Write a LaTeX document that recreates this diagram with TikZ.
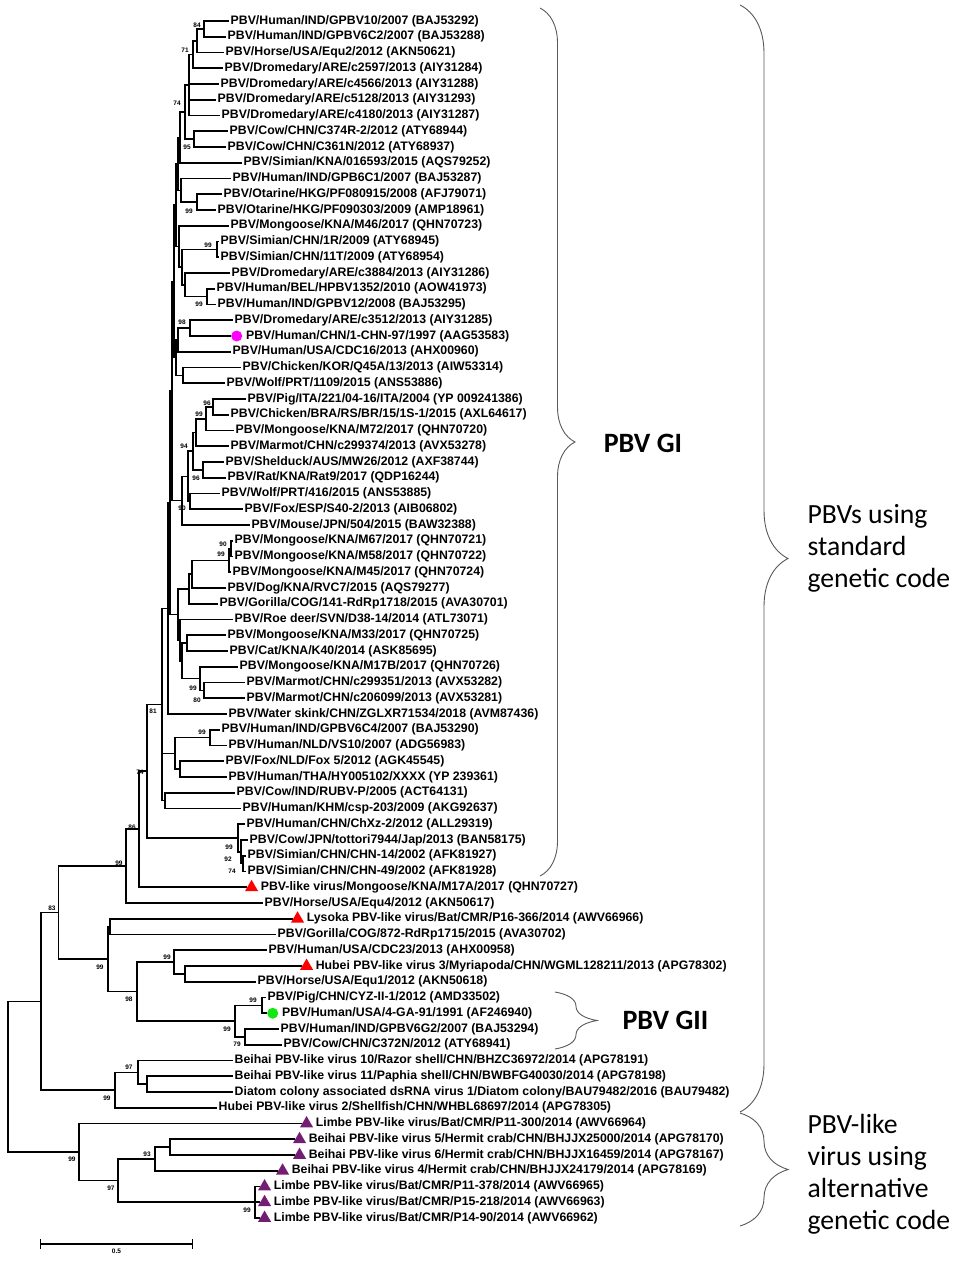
\documentclass[tikz,border=0pt]{standalone}
\usepackage{fontspec}
\setmainfont{Liberation Sans}
\newfontfamily\calib{Carlito}
\usetikzlibrary{calc, arrows, positioning, shapes.geometric, decorations.pathreplacing}

\definecolor{magdot}{RGB}{255,0,255}
\definecolor{grndot}{RGB}{20,230,20}
\definecolor{redtri}{RGB}{255,0,0}
\definecolor{purtri}{RGB}{115,30,115}

\tikzset{
  br/.style={line width=1.6pt, black},
  leaf/.style={anchor=west, inner sep=1.5pt, font=\fontsize{12.3}{14}\selectfont\bfseries},
  bs/.style={inner sep=0pt, font=\fontsize{6.5}{7}\selectfont\bfseries},
  tri/.style={regular polygon, regular polygon sides=3, fill=#1, inner sep=0pt, minimum size=15pt, anchor=west},
  dot/.style={circle, fill=#1, inner sep=0pt, minimum size=11pt, anchor=west},
  brc/.style={decorate, draw=black!65, line width=0.9pt},
  big/.style={font=\calib\fontsize{27.7}{32}\selectfont, align=left, anchor=west}
}

\begin{document}
\begin{tikzpicture}[x=1pt, y=-1pt]
\useasboundingbox (0,0) rectangle (957,1262);

% leaves, GI
\node[leaf] (l1) at (229,21) {PBV/Human/IND/GPBV10/2007 (BAJ53292)};
\node[leaf] (l2) at (226,36.75) {PBV/Human/IND/GPBV6C2/2007 (BAJ53288)};
\node[leaf] (l3) at (224,52.5) {PBV/Horse/USA/Equ2/2012 (AKN50621)};
\node[leaf] (l4) at (223,68.25) {PBV/Dromedary/ARE/c2597/2013 (AIY31284)};
\node[leaf] (l5) at (219,84) {PBV/Dromedary/ARE/c4566/2013 (AIY31288)};
\node[leaf] (l6) at (216,99.75) {PBV/Dromedary/ARE/c5128/2013 (AIY31293)};
\node[leaf] (l7) at (220,115.5) {PBV/Dromedary/ARE/c4180/2013 (AIY31287)};
\node[leaf] (l8) at (228,131.25) {PBV/Cow/CHN/C374R-2/2012 (ATY68944)};
\node[leaf] (l9) at (226,147) {PBV/Cow/CHN/C361N/2012 (ATY68937)};
\node[leaf] (l10) at (242,162.75) {PBV/Simian/KNA/016593/2015 (AQS79252)};
\node[leaf] (l11) at (231,178.5) {PBV/Human/IND/GPB6C1/2007 (BAJ53287)};
\node[leaf] (l12) at (222,194.25) {PBV/Otarine/HKG/PF080915/2008 (AFJ79071)};
\node[leaf] (l13) at (216,210) {PBV/Otarine/HKG/PF090303/2009 (AMP18961)};
\node[leaf] (l14) at (229,225.75) {PBV/Mongoose/KNA/M46/2017 (QHN70723)};
\node[leaf] (l15) at (219,241.5) {PBV/Simian/CHN/1R/2009 (ATY68945)};
\node[leaf] (l16) at (219,257.25) {PBV/Simian/CHN/11T/2009 (ATY68954)};
\node[leaf] (l17) at (230,273) {PBV/Dromedary/ARE/c3884/2013 (AIY31286)};
\node[leaf] (l18) at (215,288.75) {PBV/Human/BEL/HPBV1352/2010 (AOW41973)};
\node[leaf] (l19) at (216,304.5) {PBV/Human/IND/GPBV12/2008 (BAJ53295)};
\node[leaf] (l20) at (233,320.25) {PBV/Dromedary/ARE/c3512/2013 (AIY31285)};
\node[dot=magdot] (m21) at (231,336) {};
\node[leaf, right=2pt of m21] (l21) {PBV/Human/CHN/1-CHN-97/1997 (AAG53583)};
\node[leaf] (l22) at (231,351.75) {PBV/Human/USA/CDC16/2013 (AHX00960)};
\node[leaf] (l23) at (241,367.5) {PBV/Chicken/KOR/Q45A/13/2013 (AIW53314)};
\node[leaf] (l24) at (225,383.25) {PBV/Wolf/PRT/1109/2015 (ANS53886)};
\node[leaf] (l25) at (246,399) {PBV/Pig/ITA/221/04-16/ITA/2004 (YP 009241386)};
\node[leaf] (l26) at (229,414.75) {PBV/Chicken/BRA/RS/BR/15/1S-1/2015 (AXL64617)};
\node[leaf] (l27) at (234,430.5) {PBV/Mongoose/KNA/M72/2017 (QHN70720)};
\node[leaf] (l28) at (229,446.25) {PBV/Marmot/CHN/c299374/2013 (AVX53278)};
\node[leaf] (l29) at (224,462) {PBV/Shelduck/AUS/MW26/2012 (AXF38744)};
\node[leaf] (l30) at (226,477.75) {PBV/Rat/KNA/Rat9/2017 (QDP16244)};
\node[leaf] (l31) at (220,493.5) {PBV/Wolf/PRT/416/2015 (ANS53885)};
\node[leaf] (l32) at (243,509.25) {PBV/Fox/ESP/S40-2/2013 (AIB06802)};
\node[leaf] (l33) at (250,525) {PBV/Mouse/JPN/504/2015 (BAW32388)};
\node[leaf] (l34) at (233,540.75) {PBV/Mongoose/KNA/M67/2017 (QHN70721)};
\node[leaf] (l35) at (233,556.5) {PBV/Mongoose/KNA/M58/2017 (QHN70722)};
\node[leaf] (l36) at (231,572.25) {PBV/Mongoose/KNA/M45/2017 (QHN70724)};
\node[leaf] (l37) at (226,588) {PBV/Dog/KNA/RVC7/2015 (AQS79277)};
\node[leaf] (l38) at (218,603.75) {PBV/Gorilla/COG/141-RdRp1718/2015 (AVA30701)};
\node[leaf] (l39) at (233,619.5) {PBV/Roe deer/SVN/D38-14/2014 (ATL73071)};
\node[leaf] (l40) at (226,635.25) {PBV/Mongoose/KNA/M33/2017 (QHN70725)};
\node[leaf] (l41) at (228,651) {PBV/Cat/KNA/K40/2014 (ASK85695)};
\node[leaf] (l42) at (238,666.75) {PBV/Mongoose/KNA/M17B/2017 (QHN70726)};
\node[leaf] (l43) at (245,682.5) {PBV/Marmot/CHN/c299351/2013 (AVX53282)};
\node[leaf] (l44) at (245,698.25) {PBV/Marmot/CHN/c206099/2013 (AVX53281)};
\node[leaf] (l45) at (227,714) {PBV/Water skink/CHN/ZGLXR71534/2018 (AVM87436)};
\node[leaf] (l46) at (220,729.75) {PBV/Human/IND/GPBV6C4/2007 (BAJ53290)};
\node[leaf] (l47) at (227,745.5) {PBV/Human/NLD/VS10/2007 (ADG56983)};
\node[leaf] (l48) at (224,761.25) {PBV/Fox/NLD/Fox 5/2012 (AGK45545)};
\node[leaf] (l49) at (227,777) {PBV/Human/THA/HY005102/XXXX (YP 239361)};
\node[leaf] (l50) at (235,792.75) {PBV/Cow/IND/RUBV-P/2005 (ACT64131)};
\node[leaf] (l51) at (241,808.5) {PBV/Human/KHM/csp-203/2009 (AKG92637)};
\node[leaf] (l52) at (245,824.25) {PBV/Human/CHN/ChXz-2/2012 (ALL29319)};
\node[leaf] (l53) at (248,840) {PBV/Cow/JPN/tottori7944/Jap/2013 (BAN58175)};
\node[leaf] (l54) at (246,855.75) {PBV/Simian/CHN/CHN-14/2002 (AFK81927)};
\node[leaf] (l55) at (246,871.5) {PBV/Simian/CHN/CHN-49/2002 (AFK81928)};
% leaves, rest
\node[tri=redtri] (m56) at (247,887.25) {};
\node[leaf, right=3pt of m56] (l56) {PBV-like virus/Mongoose/KNA/M17A/2017 (QHN70727)};
\node[leaf] (l57) at (263,903) {PBV/Horse/USA/Equ4/2012 (AKN50617)};
\node[tri=redtri] (m58) at (293,918.75) {};
\node[leaf, right=3pt of m58] (l58) {Lysoka PBV-like virus/Bat/CMR/P16-366/2014 (AWV66966)};
\node[leaf] (l59) at (276,934.5) {PBV/Gorilla/COG/872-RdRp1715/2015 (AVA30702)};
\node[leaf] (l60) at (267,950.25) {PBV/Human/USA/CDC23/2013 (AHX00958)};
\node[tri=redtri] (m61) at (302,966) {};
\node[leaf, right=3pt of m61] (l61) {Hubei PBV-like virus 3/Myriapoda/CHN/WGML128211/2013 (APG78302)};
\node[leaf] (l62) at (256,981.75) {PBV/Horse/USA/Equ1/2012 (AKN50618)};
\node[leaf] (l63) at (266,997.5) {PBV/Pig/CHN/CYZ-II-1/2012 (AMD33502)};
\node[dot=grndot] (m64) at (267,1013.25) {};
\node[leaf, right=2pt of m64] (l64) {PBV/Human/USA/4-GA-91/1991 (AF246940)};
\node[leaf] (l65) at (279,1029) {PBV/Human/IND/GPBV6G2/2007 (BAJ53294)};
\node[leaf] (l66) at (282,1044.75) {PBV/Cow/CHN/C372N/2012 (ATY68941)};
\node[leaf] (l67) at (233,1060.5) {Beihai PBV-like virus 10/Razor shell/CHN/BHZC36972/2014 (APG78191)};
\node[leaf] (l68) at (233,1076.25) {Beihai PBV-like virus 11/Paphia shell/CHN/BWBFG40030/2014 (APG78198)};
\node[leaf] (l69) at (233,1092) {Diatom colony associated dsRNA virus 1/Diatom colony/BAU79482/2016 (BAU79482)};
\node[leaf] (l70) at (217,1107.75) {Hubei PBV-like virus 2/Shellfish/CHN/WHBL68697/2014 (APG78305)};
\node[tri=purtri] (m71) at (302,1123.5) {};
\node[leaf, right=3pt of m71] (l71) {Limbe PBV-like virus/Bat/CMR/P11-300/2014 (AWV66964)};
\node[tri=purtri] (m72) at (295,1139.25) {};
\node[leaf, right=3pt of m72] (l72) {Beihai PBV-like virus 5/Hermit crab/CHN/BHJJX25000/2014 (APG78170)};
\node[tri=purtri] (m73) at (295,1155) {};
\node[leaf, right=3pt of m73] (l73) {Beihai PBV-like virus 6/Hermit crab/CHN/BHJJX16459/2014 (APG78167)};
\node[tri=purtri] (m74) at (278,1170.75) {};
\node[leaf, right=3pt of m74] (l74) {Beihai PBV-like virus 4/Hermit crab/CHN/BHJJX24179/2014 (APG78169)};
\node[tri=purtri] (m75) at (260,1186.5) {};
\node[leaf, right=3pt of m75] (l75) {Limbe PBV-like virus/Bat/CMR/P11-378/2014 (AWV66965)};
\node[tri=purtri] (m76) at (260,1202.25) {};
\node[leaf, right=3pt of m76] (l76) {Limbe PBV-like virus/Bat/CMR/P15-218/2014 (AWV66963)};
\node[tri=purtri] (m77) at (260,1218) {};
\node[leaf, right=3pt of m77] (l77) {Limbe PBV-like virus/Bat/CMR/P14-90/2014 (AWV66962)};

% internal nodes
\coordinate (n84) at (204,28.9);
\coordinate (n71) at (197,40.7);
\coordinate (n93) at (193,54.5);
\coordinate (nPoly) at (189,85);
\coordinate (n95) at (194,139.1);
\coordinate (n74a) at (185,112.05);
\coordinate (nS) at (180,137.4);
\coordinate (nOt) at (197,202.1);
\coordinate (nO) at (181,190.3);
\coordinate (nT) at (178,163.85);
\coordinate (n99s) at (217,249.4);
\coordinate (nGB) at (207,296.6);
\coordinate (nA3) at (185,284.8);
\coordinate (nA2) at (182,267.1);
\coordinate (nA1) at (179,246.4);
\coordinate (nI1) at (176,205.1);
\coordinate (n98) at (190,328.1);
\coordinate (nB1) at (178,339.9);
\coordinate (nC) at (183,375.4);
\coordinate (nI2) at (176,357.65);
\coordinate (nI) at (174,281.4);
\coordinate (n96) at (213,406.9);
\coordinate (n99p) at (206,418.7);
\coordinate (nMa) at (196,432.5);
\coordinate (n96b) at (203,469.9);
\coordinate (n94) at (193,451.2);
\coordinate (nWF) at (190,501.4);
\coordinate (nWo) at (188,476.3);
\coordinate (nMo) at (182,500.65);
\coordinate (nJ) at (172,391);
\coordinate (n90) at (231,548.6);
\coordinate (n99m) at (229,560.4);
\coordinate (nDog) at (192,574.2);
\coordinate (nGor) at (189,589);
\coordinate (nCat) at (187,643.1);
\coordinate (n80) at (204,690.4);
\coordinate (n99c) at (200,678.6);
\coordinate (nE1) at (182,660.85);
\coordinate (nE2) at (180,640.2);
\coordinate (nF) at (178,614.6);
\coordinate (nH) at (170,502.8);
\coordinate (nW) at (168,608.4);
\coordinate (n99h) at (210,737.6);
\coordinate (nFx) at (180,769.1);
\coordinate (nG8) at (175,753.4);
\coordinate (nG9) at (165,800.6);
\coordinate (n81) at (162,704.5);
\coordinate (nCh3) at (243,863.6);
\coordinate (nCh2) at (241,851.8);
\coordinate (nChX) at (238,838);
\coordinate (n74) at (147,771.25);
\coordinate (n86) at (139,829.25);
\coordinate (n99a) at (126,866.1);
\coordinate (nLG) at (110,926.6);
\coordinate (nH3) at (185,973.9);
\coordinate (n99g) at (174,962.1);
\coordinate (nPH) at (262,1005.4);
\coordinate (nIC) at (245,1036.9);
\coordinate (n99h2) at (235,1021.15);
\coordinate (n98g) at (137,991.6);
\coordinate (n99b) at (108,959.1);
\coordinate (nA) at (58.5,912.6);
\coordinate (nB1011) at (147,1084.1);
\coordinate (n97) at (138,1072.3);
\coordinate (nBH) at (115,1090);
\coordinate (n83) at (41,1001.3);
\coordinate (nB56) at (170,1147.1);
\coordinate (n93b) at (155,1158.9);
\coordinate (nLim) at (255,1202.25);
\coordinate (n97b) at (118,1180.6);
\coordinate (n99alt) at (79,1152.05);
\coordinate (root) at (8,1076.7);

% branches
\foreach \p/\c in {n84/l1.west, n84/l2.west, n71/n84, n71/l3.west, n93/n71, n93/l4.west,
    nPoly/n93, nPoly/l5.west, nPoly/l6.west, nPoly/l7.west, n95/l8.west, n95/l9.west,
    n74a/nPoly, n74a/n95, nS/n74a, nS/l10.west, nOt/l12.west, nOt/l13.west, nO/l11.west, nO/nOt,
    nT/nS, nT/nO, n99s/l15.west, n99s/l16.west, nGB/l18.west, nGB/l19.west, nA3/l17.west, nA3/nGB,
    nA2/n99s, nA2/nA3, nA1/l14.west, nA1/nA2, nI1/nT, nI1/nA1,
    n98/l20.west, n98/m21.west, nB1/n98, nB1/l22.west, nC/l23.west, nC/l24.west,
    nI2/nB1, nI2/nC, nI/nI1, nI/nI2,
    n96/l25.west, n96/l26.west, n99p/n96, n99p/l27.west, nMa/n99p, nMa/l28.west,
    n96b/l29.west, n96b/l30.west, n94/nMa, n94/n96b, nWF/l31.west, nWF/l32.west,
    nWo/n94, nWo/nWF, nMo/nWo, nMo/l33.west, nJ/nI, nJ/nMo,
    n90/l34.west, n90/l35.west, n99m/n90, n99m/l36.west, nDog/n99m, nDog/l37.west,
    nGor/nDog, nGor/l38.west, nCat/l40.west, nCat/l41.west, n80/l43.west, n80/l44.west,
    n99c/l42.west, n99c/n80, nE1/nCat, nE1/n99c, nE2/l39.west, nE2/nE1, nF/nGor, nF/nE2,
    nH/nJ, nH/nF, nW/nH, nW/l45.west,
    n99h/l46.west, n99h/l47.west, nFx/l48.west, nFx/l49.west, nG8/n99h, nG8/nFx,
    nG9/l50.west, nG9/l51.west, n81/nW, n81/nG8, n81/nG9,
    nCh3/l54.west, nCh3/l55.west, nCh2/l53.west, nCh2/nCh3, nChX/l52.west, nChX/nCh2,
    n74/n81, n74/nChX, n86/n74, n86/m56.west, n99a/n86, n99a/l57.west,
    nLG/m58.west, nLG/l59.west, nH3/m61.west, nH3/l62.west, n99g/l60.west, n99g/nH3,
    nPH/l63.west, nPH/m64.west, nIC/l65.west, nIC/l66.west, n99h2/nPH, n99h2/nIC,
    n98g/n99g, n98g/n99h2, n99b/nLG, n99b/n98g, nA/n99a, nA/n99b,
    nB1011/l68.west, nB1011/l69.west, n97/l67.west, n97/nB1011, nBH/n97, nBH/l70.west,
    n83/nA, n83/nBH,
    nB56/m72.west, nB56/m73.west, n93b/nB56, n93b/m74.west,
    nLim/m75.west, nLim/m76.west, nLim/m77.west, n97b/n93b, n97b/nLim,
    n99alt/m71.west, n99alt/n97b, root/n83, root/n99alt}
  \draw[br] (\p) |- (\c);

% bootstrap values
\foreach \x/\y/\v [count=\i] in {197/25/84, 185/50/71, 177/103/74, 187/147/95, 189/211/99,
    208/245/99, 199/304/99, 182/322/98, 207/403/96, 199/414/99, 184/446/94, 196/478/96,
    182/508/90, 223/544/90, 221/554/99, 193/688/99, 197/700/80, 153/711/81, 202/732/99,
    140/772/74, 132/827/86, 229/847/99, 228/859/92, 232/871/74, 119/863/99, 52/908/83,
    100/967/99, 167/957/99, 129/999/98, 253/1000/99, 227/1029/99, 237/1044/79,
    129/1067/97, 107/1098/99, 72/1159/99, 147/1154/93, 111/1188/97, 247/1210/99}
  \node[bs] (b\i) at (\x,\y) {\v};

% scale bar
\coordinate (sbl) at (40,1244);
\coordinate (sbr) at (193,1244);
\draw[line width=1.3pt, |-|] (sbl) -- (sbr) node[bs, midway, below=4pt] (sbt) {0.5};

% brackets
\coordinate (gia) at (540,8);
\coordinate (gib) at (540,876);
\draw[brc, decoration={brace, amplitude=35pt}] (gia) -- (gib);
\node[font=\calib\bfseries\fontsize{28}{30}\selectfont] (gi) at (643,443) {PBV GI};

\coordinate (giia) at (555,992);
\coordinate (giib) at (555,1049);
\draw[brc, decoration={brace, amplitude=42pt}] (giia) -- (giib);
\node[font=\calib\bfseries\fontsize{28}{30}\selectfont, anchor=west] (gii) at (619,1020) {PBV GII};

\coordinate (sta) at (740,5);
\coordinate (stb) at (740,1112);
\draw[brc, decoration={brace, amplitude=48pt}] (sta) -- (stb);
\node[big] (std) at (804,548) {PBVs using\\standard\\genetic code};

\coordinate (alta) at (740,1113);
\coordinate (altb) at (740,1226);
\draw[brc, decoration={brace, amplitude=48pt}] (alta) -- (altb);
\node[big] (alt) at (804,1174) {PBV-like\\virus using\\alternative\\genetic code};
\end{tikzpicture}
\end{document}
